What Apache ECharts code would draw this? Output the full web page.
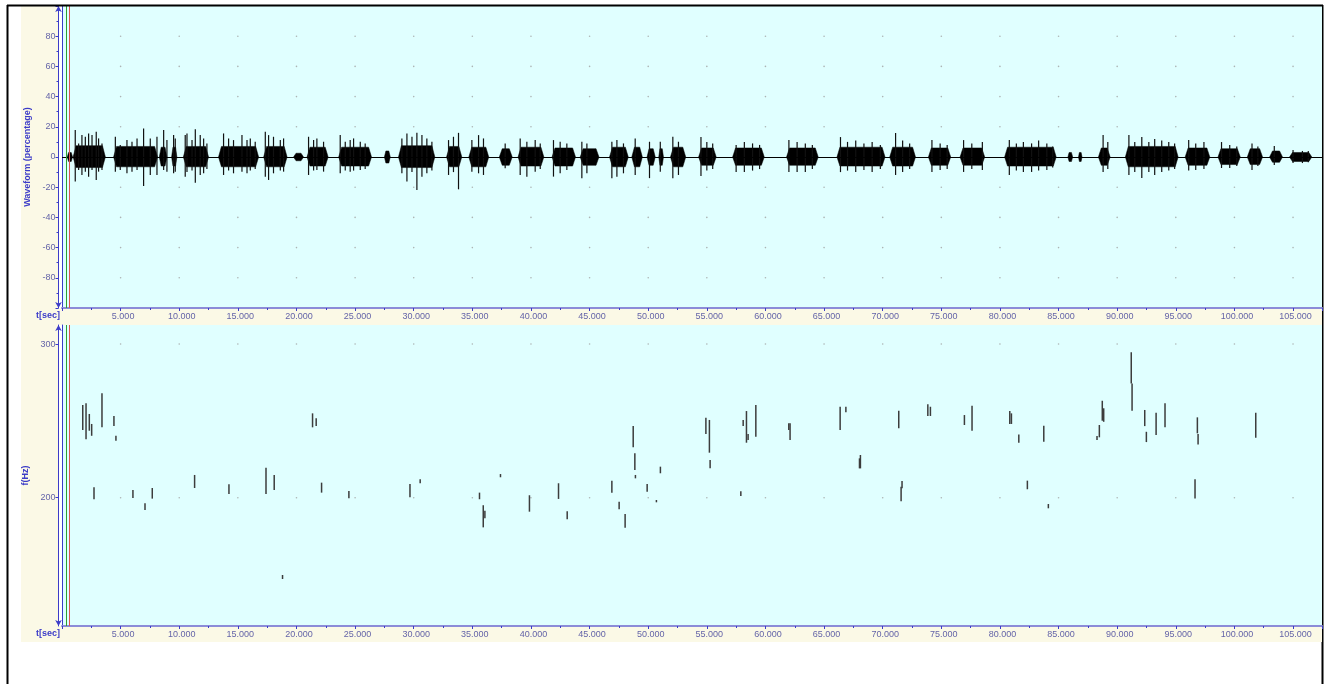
<!DOCTYPE html>
<html><head><meta charset="utf-8">
<script src="https://cdn.jsdelivr.net/npm/echarts@6/dist/echarts.min.js"></script>
<style>html,body{margin:0;padding:0;background:#fff}#c{width:1328px;height:684px}</style>
</head><body><div id="c"></div>
<script>
// ---- data ----
const xTickValues = [5,10,15,20,25,30,35,40,45,50,55,60,65,70,75,80,85,90,95,100,105];
const waveTickValues = [-80,-60,-40,-20,20,40,60,80];
const pitchTickValues = [200,300];
const cursorTimes = [0.34, 0.62];

// waveform: dense bursts (start s, end s, core upper %, core lower %)
const burstStart = [0.45,0.95,4.40,8.30,9.35,10.35,13.35,17.20,19.75,20.90,23.60,27.50,28.70,32.80,34.70,37.30,38.90,41.80,44.20,46.70,48.60,49.90,50.90,51.90,
  54.30,57.20,61.80,66.10,70.60,73.90,76.60,80.40,85.80,86.70,88.40,90.70,95.80,98.60,101.10,103.00,104.70];
const burstEnd   = [0.90,3.70,8.15,8.95,9.80,12.50,16.77,19.20,20.60,22.70,26.40,28.00,31.80,34.10,36.40,38.40,41.10,43.80,45.80,48.30,49.50,50.60,51.30,53.20,
  55.80,59.90,64.50,70.20,72.80,75.80,78.70,84.80,86.20,87.00,89.40,95.20,97.90,100.50,102.40,104.10,106.60];
const burstHi    = [3,7.5,7,6.5,6.5,7,7,7,2.5,6.5,6.5,4,7.5,7,6.5,5.5,6.5,6,5.5,6.5,6.5,5.5,5.5,6.5, 6,6,6,6.5,6.5,6,6,6.5,3,3,6,7,6,5.5,5.5,4,3];
const burstLo    = [-3,-7,-6.5,-6,-6,-6.5,-6.5,-6.5,-2.5,-6,-6,-4,-7,-6.5,-6.5,-5.5,-6,-6,-5.5,-6.5,-6.5,-5.5,-5.5,-6.5, -5.5,-5.5,-5.5,-6,-6,-5.5,-5.5,-6,-3,-3,-5.5,-6.5,-5.5,-5,-5,-3.5,-3];

// waveform: individual peaks (time s, upper %, lower %)
const spikeT  = [1.13,1.42,1.70,1.99,2.27,2.56,2.92,3.12,3.41,
  4.55,4.97,5.54,5.97,6.40,6.96,7.53,8.10,8.67,8.95,9.52,9.66,
  10.51,10.66,11.09,11.37,11.79,12.08,12.36, 13.78,14.21,14.63,15.35,15.78,16.06,16.48,
  17.34,17.62,18.04,18.62,18.90, 21.03,21.46,21.74,22.31, 23.73,24.16,24.58,24.87,25.44,25.86,
  28.99,29.42,29.85,30.27,30.70,31.12,31.55, 32.97,33.39,33.82, 34.96,35.53,35.95, 37.80,
  39.08,39.65,40.36,40.79, 41.92,42.49,43.06, 44.34,44.77, 46.90,47.33,47.89, 48.89, 50.11, 51.03, 52.10,52.58,
  54.50,55.00,55.50, 57.50,58.20,58.90,59.50, 62.00,62.70,63.40,64.00, 66.40,67.00,67.70,68.40,69.10,69.80,
  71.10,71.70,72.30, 74.20,74.90,75.50, 76.90,77.60,78.50, 80.80,81.40,82.00,82.70,83.30,84.00,84.50,
  88.80,89.20, 91.00,91.50,92.10,92.70,93.20,93.80,94.40,94.90, 96.10,96.70,97.40, 98.90,99.60,100.20,
  101.50,102.00, 103.40, 105.00,105.80,106.30];
const spikeHi = [17.8,9,14.5,13.4,15.6,14.5,16.7,12.3,9,
  13.4,7.9,11.2,10.1,12.3,18.9,12.3,13.4,17.8,11.2,14.5,12.3,
  14.5,15.6,11.2,18.3,14.5,12.3,9, 15.6,12.3,11.2,14.5,11.2,12.3,10.1,
  16.7,14.5,13.4,11.2,12.3, 13.4,11.2,12.3,10.1, 14.5,10.1,11.2,12.3,10.1,9,
  12.3,15.6,13.4,16,14.5,12.3,10.1, 11.2,13.4,16, 11.2,14.5,12.3, 9,
  12.3,10.1,11.2,9, 11.2,10.1,9, 10.1,9, 10.1,11.2,9, 12.3, 10.1, 10.1, 13.4,10.1,
  13.2,10,9, 8,10,9,8, 11.2,10,9,8, 13.2,10,11,9,10,8,
  15.9,11,9, 11.2,9,8, 11.2,9,9.9, 11.2,9,10,9,11,9,7,
  14.5,10, 14.5,10,13.2,10,12,11,10,9, 11.2,9,9.9, 9.9,8,7,
  9,7, 7.3, 4.6,4,4];
const spikeLo = [-16.3,-8.6,-11.9,-9.7,-13,-8.6,-15.2,-9.7,-8.6,
  -9.7,-8.6,-10.8,-9.7,-8.6,-19.2,-11.9,-11.9,-8.6,-9.7,-10.8,-9.7,
  -13,-10,-9,-17,-11.9,-10.8,-8, -11.9,-9,-10.8,-9.7,-10.8,-9,-8,
  -13,-15.2,-10.8,-9,-9.7, -11.9,-9,-8.6,-9.7, -10.8,-9,-9.7,-9,-8.6,-8,
  -10.8,-16.3,-10,-21.8,-13,-10.8,-9, -11.9,-10,-21.4, -9.7,-10.8,-11.9, -7.5,
  -11.9,-13,-9.7,-8, -13,-10.8,-8.6, -14,-10.8, -14,-13,-10.8, -11.9, -14, -9.7, -14,-11.9,
  -12.6,-9,-8, -9.9,-10,-9,-8, -9.9,-10,-9.9,-8, -10,-9,-9.9,-8.6,-9.9,-8,
  -11.9,-9.9,-8, -9.9,-8.6,-8, -9.9,-8,-8.6, -11.9,-9,-10,-9.9,-9,-8.6,-7,
  -9.9,-8, -11.9,-10,-13.9,-10,-11.9,-10,-9,-8, -9,-8.6,-8, -7.3,-7.3,-6,
  -8.6,-6, -5.3, -4,-4,-3.5];

// pitch track strokes (time s, upper Hz, lower Hz)
const pitchT  = [1.77,2.05,2.33,2.53,3.41,4.43,4.6,2.73,6.05,7.08,7.7,11.31,14.24,17.4,18.1,18.81,21.37,21.68,22.14,24.47,
 29.68,30.55,35.61,35.93,36.07,37.4,39.87,42.35,43.09,46.9,47.52,48.03,48.72,48.86,48.91,49.91,50.7,51.04,
 54.92,55.22,55.28,57.9,58.1,58.38,58.52,59.18,61.99,62.1,66.37,66.86,68.1,68.02,71.37,71.57,71.65,73.85,74.07,76.97,77.62,
 80.84,80.98,81.61,82.34,83.74,84.13,88.28,88.48,88.73,88.85,91.2,91.27,92.35,92.49,93.32,94.08,96.64,96.84,96.9,101.82];
const pitchHi = [260.3,261.4,254.5,248,267.9,253.2,240.3,206.8,205,196.4,206.3,214.8,208.7,219.5,214.8,149.7,254.9,251.7,209.8,204.4,
 208.9,212,203.3,195.1,191.5,215.4,201.6,209.4,191.2,211.1,197.4,189.4,246.6,228.9,214.8,208.9,198.5,220.2,
 252.1,250.6,224.5,204.2,250.6,256.4,241.4,260.3,248.4,248.4,259.2,259.2,227.8,225.6,256.6,207.2,210.9,260.8,259.2,253.8,259.9,
 256.4,254.9,241.2,211.1,246.8,195.9,240.1,247.3,263.1,258.2,294.6,274.4,257.1,242.9,255.3,261.4,212,252.3,241.4,255.3];
const pitchLo = [244,238,243.6,240.3,245.8,246.6,237.1,199,199.8,192,199.4,206.3,202.4,202.4,205,147.1,245.8,246.6,203.3,199.6,
 200.3,209.4,199,180.7,186.6,213.3,190.9,199.2,185.9,203.3,192.5,180.5,232.8,218,212.6,203.9,197,215.9,
 241.4,229.3,219.1,201.1,246.6,235.8,237.5,239.7,244,237.5,244,255.6,219.1,219.1,245.2,197.7,206.1,253.2,253.2,247.3,243.6,
 248,248,235.8,205.5,236.4,193.1,237.5,239.3,250.1,249.4,274.4,256.6,246.6,236.2,240.8,245.8,199.4,241.9,234.7,239];

// ---- chart ----
const FONT = 'Liberation Sans';
const LBL = '#6464a8';
const AXIS = '#3c3cc8';
const chart = echarts.init(document.getElementById('c'), null, {renderer:'canvas'});

function xAxisDef(gi){
  return {type:'value', gridIndex:gi, min:0, max:107.47, interval:5,
    axisLine:{show:true, onZero:false, lineStyle:{color:'#8c8cd8', width:2}},
    axisTick:{show:true, length:3, lineStyle:{color:AXIS}},
    minorTick:{show:true, splitNumber:2, length:2, lineStyle:{color:AXIS}},
    splitLine:{show:false},
    axisLabel:{showMinLabel:false, showMaxLabel:false, color:LBL, fontFamily:FONT, fontSize:9, margin:4,
      padding:[0,0,0,5], formatter:v=>v.toFixed(3)}
  };
}
const grids = [
  {left:62, top:6, width:1260, height:302, show:true, backgroundColor:'#e0ffff', borderWidth:0},
  {left:62, top:325, width:1260, height:301, show:true, backgroundColor:'#e0ffff', borderWidth:0}
];
const yAxes = [
  {type:'value', gridIndex:0, min:-100, max:100, interval:20, offset:3.5,
    name:'Waveform (percentage)', nameLocation:'middle', nameGap:24, nameRotate:90,
    nameTextStyle:{color:AXIS, fontFamily:FONT, fontSize:9, fontWeight:'bold'},
    axisLine:{show:true, onZero:false, symbol:['arrow','arrow'], symbolSize:[5,6], lineStyle:{color:AXIS, width:1}},
    axisTick:{show:true, length:3, lineStyle:{color:AXIS}},
    minorTick:{show:true, splitNumber:2, length:2, lineStyle:{color:AXIS}},
    splitLine:{show:false},
    axisLabel:{showMinLabel:false, showMaxLabel:false, color:LBL, fontFamily:FONT, fontSize:9, margin:3}},
  {type:'value', gridIndex:0, min:-100, max:100, position:'left', offset:0,
    axisLine:{show:true, onZero:false, lineStyle:{color:AXIS, width:1}}, axisTick:{show:false}, axisLabel:{show:false}, splitLine:{show:false}},
  {type:'value', gridIndex:1, min:116.5, max:312.4, offset:3.5,
    name:'f(Hz)', nameLocation:'middle', nameGap:24, nameRotate:90,
    nameTextStyle:{color:AXIS, fontFamily:FONT, fontSize:9, fontWeight:'bold'},
    axisLine:{show:true, onZero:false, symbol:['arrow','arrow'], symbolSize:[5,6], lineStyle:{color:AXIS, width:1}},
    axisTick:{show:true, length:3, customValues:pitchTickValues, lineStyle:{color:AXIS}},
    splitLine:{show:false},
    axisLabel:{customValues:pitchTickValues, color:LBL, fontFamily:FONT, fontSize:9, margin:3}},
  {type:'value', gridIndex:1, min:116.5, max:312.4, position:'left', offset:0,
    axisLine:{show:true, onZero:false, lineStyle:{color:AXIS, width:1}}, axisTick:{show:false}, axisLabel:{show:false}, splitLine:{show:false}}
];

const dotsTop = [], dotsBot = [];
xTickValues.forEach(x=>{ waveTickValues.forEach(y=>dotsTop.push([x,y])); pitchTickValues.forEach(y=>dotsBot.push([x,y])); });

function cursorLines(){
  return {silent:true, symbol:['none','none'], label:{show:false},
    data:[{xAxis:cursorTimes[0], lineStyle:{color:'#30a030', width:1, type:'solid'}},
          {xAxis:cursorTimes[1], lineStyle:{color:'#e05050', width:1, type:'solid'}}]};
}

const series = [
  {type:'scatter', xAxisIndex:0, yAxisIndex:0, data:dotsTop, symbolSize:1.6, itemStyle:{color:'#a0a0a0'}, silent:true, z:1},
  {type:'scatter', xAxisIndex:1, yAxisIndex:2, data:dotsBot, symbolSize:1.6, itemStyle:{color:'#a0a0a0'}, silent:true, z:1},
  // dense burst cores
  {type:'custom', xAxisIndex:0, yAxisIndex:0, silent:true, z:3,
    data:burstStart.map((s,i)=>[s,burstEnd[i],burstHi[i],burstLo[i]]),
    renderItem:(params, api)=>{
      const s = api.value(0), e = api.value(1), hi = api.value(2), lo = api.value(3);
      const d = Math.min(0.25, (e-s)/4);
      const pts = [[s,0],[s+d,hi],[e-d,hi],[e,0],[e-d,lo],[s+d,lo]].map(p=>api.coord(p));
      return {type:'polygon', shape:{points:pts}, style:{fill:'#000', stroke:'#000', lineWidth:0.5}};
    },
    markLine:{silent:true, symbol:['none','none'], label:{show:false}, lineStyle:{color:'#000', width:1, type:'solid'}, data:[{yAxis:0}]}},
  // individual peaks
  {type:'custom', xAxisIndex:0, yAxisIndex:0, silent:true, z:4,
    data:spikeT.map((t,i)=>[t,spikeHi[i],spikeLo[i]]),
    renderItem:(params, api)=>{
      const a = api.coord([api.value(0), api.value(1)]);
      const b = api.coord([api.value(0), api.value(2)]);
      return {type:'line', shape:{x1:a[0], y1:a[1], x2:b[0], y2:b[1]}, style:{stroke:'#111', lineWidth:1.2}};
    }},
  {type:'line', xAxisIndex:0, yAxisIndex:0, data:[], markLine:cursorLines()},
  // pitch strokes
  {type:'custom', xAxisIndex:1, yAxisIndex:2, data:pitchT.map((t,i)=>[t,pitchHi[i],pitchLo[i]]), silent:true, z:3,
    renderItem:(params, api)=>{
      const a = api.coord([api.value(0), api.value(1)]);
      const b = api.coord([api.value(0), api.value(2)]);
      return {type:'line', shape:{x1:a[0], y1:a[1], x2:b[0], y2:b[1]}, style:{stroke:'#3c3c3c', lineWidth:1.5}};
    }},
  {type:'line', xAxisIndex:1, yAxisIndex:2, data:[], markLine:cursorLines()}
];

const beige = '#fbf9e6';
chart.setOption({
  animation:false,
  grid:grids,
  xAxis:[xAxisDef(0), xAxisDef(1)],
  yAxis:yAxes,
  series:series,
  graphic:[
    {type:'rect', z:-10, shape:{x:21, y:6, width:37, height:636}, style:{fill:beige}},
    {type:'rect', z:-10, shape:{x:21, y:308, width:1301, height:17}, style:{fill:beige}},
    {type:'rect', z:-10, shape:{x:21, y:626, width:1301, height:16}, style:{fill:beige}},
    {type:'line', z:10, shape:{x1:7.5, y1:5, x2:7.5, y2:684}, style:{stroke:'#000', lineWidth:2}},
    {type:'line', z:10, shape:{x1:7, y1:5.5, x2:1323, y2:5.5}, style:{stroke:'#000', lineWidth:2}},
    {type:'line', z:-11, shape:{x1:1322.5, y1:5, x2:1322.5, y2:684}, style:{stroke:'#000', lineWidth:2}},
    {type:'text', z:10, left:36, top:311, style:{text:'t[sec]', fill:AXIS, font:'bold 9px "Liberation Sans"'}},
    {type:'text', z:10, left:36, top:629, style:{text:'t[sec]', fill:AXIS, font:'bold 9px "Liberation Sans"'}}
  ]
});
</script>
</body></html>
